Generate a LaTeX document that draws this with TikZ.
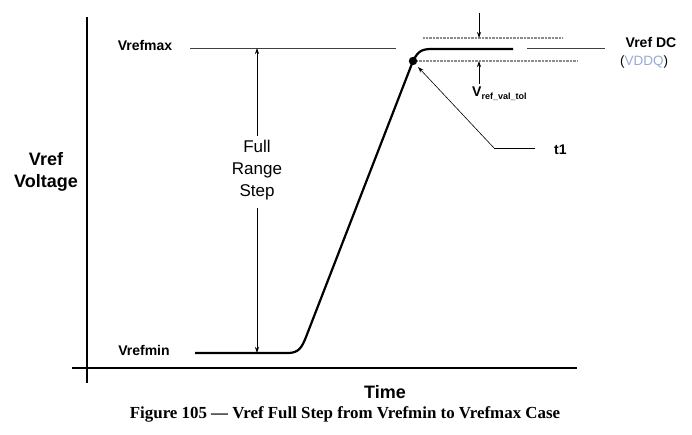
\documentclass[tikz,border=0pt]{standalone}
\usepackage{fontspec}
\setmainfont{Liberation Sans}
\newfontfamily\capfont{Liberation Serif}
\usetikzlibrary{arrows.meta}
\definecolor{vddqc}{RGB}{150,170,210}
\tikzset{
  axis/.style={line width=1.9pt,black},
  wave/.style={line width=2.2pt,black,line join=round},
  thin/.style={line width=0.6pt,black!75},
  dotl/.style={line width=1.3pt,black!45,dash pattern=on 0.8pt off 0.6pt},
  arr/.style={line width=0.7pt,black,-{Stealth[length=6pt,width=4pt]}},
  lbl/.style={font=\bfseries\fontsize{14}{16}\selectfont,inner sep=0pt},
  big/.style={font=\bfseries\fontsize{18}{22}\selectfont,inner sep=0pt,align=center},
}
\begin{document}
\begin{tikzpicture}[x=1pt,y=-1pt]
\useasboundingbox (0,0) rectangle (692,435);
% axes
\coordinate (ytop) at (87,17);
\coordinate (ybot) at (87,383);
\coordinate (xl) at (72,368);
\coordinate (xr) at (577,368);
\draw[axis] (ytop) -- (ybot);
\draw[axis] (xl) -- (xr);
% labels
\node[big] (vv) at (46,172) {Vref\\Voltage};
\node[big] (time) at (385,392) {Time};
\node[lbl] (vmax) at (145,45) {Vrefmax};
\node[lbl] (vmin) at (144,350) {Vrefmin};
\node[lbl] (vdc) at (651,43) {Vref DC};
\node[inner sep=0pt,font=\fontsize{13.5}{16}\selectfont] (vddq) at (644,62) {(\textcolor{vddqc}{VDDQ})};
\node[lbl,anchor=west] (t1) at (554,150) {t1};
\node[lbl,anchor=west] (tol) at (472,94) {V\raisebox{-0.35ex}{\fontsize{9}{10}\selectfont ref\_val\_tol}};
\node[font=\fontsize{17}{22}\selectfont,align=center,inner sep=0pt] (frs) at (257,170) {Full\\Range\\Step};
\node[font=\capfont\bfseries\fontsize{16.9}{20}\selectfont,inner sep=0pt] (cap) at (345,414) {Figure 105 — Vref Full Step from Vrefmin to Vrefmax Case};
% reference lines
\coordinate (maxa) at (190,48);
\coordinate (maxb) at (396,48);
\coordinate (maxc) at (527,48);
\coordinate (maxd) at (605,48);
\draw[thin] (maxa) -- (maxb);
\draw[thin] (maxc) -- (maxd);
\coordinate (ua) at (423,38); \coordinate (ub) at (563,38);
\coordinate (la) at (413,61); \coordinate (lb) at (578,61);
\draw[dotl] (ua) -- (ub);
\draw[dotl] (la) -- (lb);
% full range arrows
\coordinate (fra) at (257,136);
\coordinate (frt) at (257,48);
\coordinate (frb) at (257,208);
\coordinate (frm) at (257,353);
\draw[arr] (fra) -- (frt);
\draw[arr] (frb) -- (frm);
% tolerance arrows
\coordinate (ta) at (479,13); \coordinate (tb) at (479,38);
\coordinate (tc) at (479,84); \coordinate (td) at (479,61);
\draw[arr] (ta) -- (tb);
\draw[arr] (tc) -- (td);
% waveform
\coordinate (w0) at (195,353);
\coordinate (w1) at (288,353);
\coordinate (w2) at (306,337);
\coordinate (dot) at (413,61);
\coordinate (w3) at (432,49);
\coordinate (w4) at (513,49);
\draw[wave] (w0) -- (w1) .. controls (299,353) and (302,347) .. (w2) -- (dot) .. controls (418,51) and (422,49) .. (w3) -- (w4);
\fill (dot) circle (4.2);
% t1 pointer
\coordinate (tk) at (494,148);
\coordinate (tr) at (535,148);
\coordinate (tt) at (418,67);
\draw[thin,black] (tr) -- (tk);
\draw[arr,line width=0.6pt] (tk) -- (tt);
\end{tikzpicture}
\end{document}
